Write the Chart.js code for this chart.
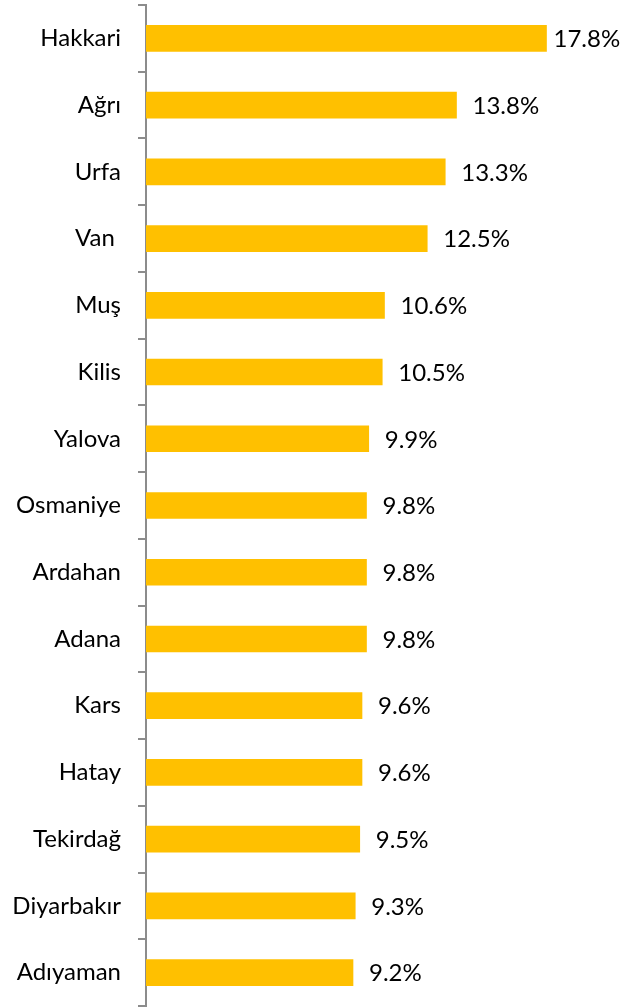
<!DOCTYPE html>
<html>
<head>
<meta charset="utf-8">
<script src="https://cdn.jsdelivr.net/npm/chart.js@4"></script>
<style>
	html, body { margin: 0; padding: 0; background: #fff; }
	#wrap { width: 635px; height: 1007px; position: relative; }
</style>
</head>
<body>
<div id="wrap"><canvas id="myChart"></canvas></div>
<script>
const provinces = [
	'Hakkari', 'Ağrı', 'Urfa', 'Van ', 'Muş', 'Kilis', 'Yalova', 'Osmaniye',
	'Ardahan', 'Adana', 'Kars', 'Hatay', 'Tekirdağ', 'Diyarbakır', 'Adıyaman',
];
const rates = [17.8, 13.8, 13.3, 12.5, 10.6, 10.5, 9.9, 9.8, 9.8, 9.8, 9.6, 9.6, 9.5, 9.3, 9.2];

const fontFamily = 'Lato, "Open Sans", sans-serif';
const axisGrey = '#8c8c8c';

// value labels to the right of each bar
const valueLabels = {
	id: 'valueLabels',
	afterDatasetsDraw: chart => {
		const ctx = chart.ctx;
		const meta = chart.getDatasetMeta(0);
		ctx.save();
		ctx.font = `24px ${fontFamily}`;
		ctx.fillStyle = '#000';
		ctx.textAlign = 'left';
		ctx.textBaseline = 'middle';
		meta.data.forEach((bar, i) => {
			const text = `${rates[i].toFixed(1)}%`;
			const w = ctx.measureText(text).width;
			let x = bar.x + 16;
			if (x + w > chart.width - 14) x = bar.x + 7;
			ctx.fillText(text, x, bar.y + 1);
		});
		ctx.restore();
	},
};

const ctx = document.getElementById('myChart');
const chart = new Chart(ctx, {
	type: 'bar',
	data: {
		labels: provinces,
		datasets: [
			{
				data: rates,
				backgroundColor: '#ffc000',
				borderWidth: 0,
				barThickness: 26,
			},
		],
	},
	options: {
		indexAxis: 'y',
		responsive: true,
		maintainAspectRatio: false,
		animation: false,
		layout: { padding: { top: 5, bottom: 1, right: 39, left: 0 } },
		plugins: {
			legend: { display: false },
			tooltip: { enabled: false },
		},
		scales: {
			x: {
				display: false,
				min: 0,
				max: 20,
			},
			y: {
				afterFit: scale => {
					scale.width = 146;
					scale.paddingTop = 0;
					scale.paddingBottom = 0;
				},
				border: { display: true, color: axisGrey, width: 2 },
				grid: {
					display: true,
					offset: true,
					drawOnChartArea: false,
					drawTicks: true,
					tickLength: 8,
					color: axisGrey,
					lineWidth: 2,
				},
				ticks: {
					color: '#000',
					padding: 17,
					font: { family: fontFamily, size: 24 },
				},
			},
		},
	},
	plugins: [valueLabels],
});
</script>
</body>
</html>
